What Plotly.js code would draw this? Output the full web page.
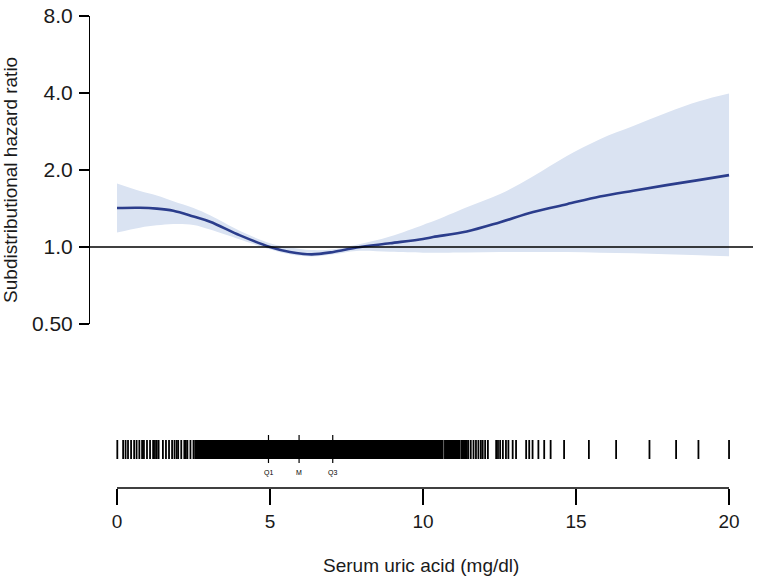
<!DOCTYPE html>
<html>
<head>
<meta charset="utf-8">
<script src="https://cdn.plot.ly/plotly-3.0.1.min.js"></script>
<style>html,body{margin:0;padding:0;background:#fff;}#chart{width:757px;height:580px;}</style>
</head>
<body>
<div id="chart"></div>
<script>
// Serum uric acid (mg/dl)
const uricAcid = [0, 0.75, 1.3, 1.84, 2.5, 3.04, 4.02, 5.0, 5.65, 6.36, 7.07, 7.83, 8.92, 10.0, 10.33, 11.43, 12.52, 13.6, 14.7, 15.78, 16.87, 17.96, 19.05, 20];
const shr      = [1.42, 1.423, 1.412, 1.385, 1.315, 1.255, 1.11, 1.0, 0.956, 0.936, 0.956, 0.995, 1.034, 1.075, 1.094, 1.15, 1.25, 1.37, 1.47, 1.575, 1.66, 1.745, 1.83, 1.91];
const ciLower  = [1.14, 1.19, 1.215, 1.23, 1.22, 1.17, 1.07, 0.98, 0.936, 0.917, 0.936, 0.965, 0.958, 0.95, 0.95, 0.952, 0.956, 0.956, 0.955, 0.95, 0.945, 0.937, 0.928, 0.92];
const ciUpper  = [1.77, 1.655, 1.59, 1.51, 1.42, 1.33, 1.155, 1.035, 0.995, 0.973, 0.98, 1.02, 1.10, 1.22, 1.26, 1.43, 1.61, 1.89, 2.27, 2.64, 2.97, 3.35, 3.72, 3.98];

// rug of observations (sparse parts)
const rugSparse = [0.01, 0.2, 0.28, 0.36, 0.46, 0.56, 0.64, 0.73, 0.82, 0.88, 0.98, 1.08, 1.18, 1.24, 1.3, 1.36, 1.5, 1.6, 1.7, 1.8, 1.88, 1.95, 2.0, 2.1, 2.2, 2.25, 2.3, 2.4, 2.5,
  11.48, 11.56, 11.65, 11.73, 11.81, 11.89, 11.95, 12.03, 12.12, 12.39, 12.45, 12.52, 12.61, 12.71, 12.79, 12.93, 13.04, 13.37, 13.47, 13.58, 13.77, 13.96, 14.17, 14.61, 15.42, 16.31, 17.4, 18.27, 19.0, 20.0];
// rug of observations (dense, solid part)
const rugDense = [2.6, 2.7, 2.8, 2.9, 3.0, 3.1, 3.2, 3.3, 3.4, 3.5, 3.6, 3.7, 3.8, 3.9, 4.0, 4.1, 4.2, 4.3, 4.4, 4.5, 4.6, 4.7, 4.8, 4.9, 5.0,
  5.1, 5.2, 5.3, 5.4, 5.5, 5.6, 5.7, 5.8, 5.9, 6.0, 6.1, 6.2, 6.3, 6.4, 6.5, 6.6, 6.7, 6.8, 6.9, 7.0, 7.1, 7.2, 7.3, 7.4, 7.5,
  7.6, 7.7, 7.8, 7.9, 8.0, 8.1, 8.2, 8.3, 8.4, 8.5, 8.6, 8.7, 8.8, 8.9, 9.0, 9.1, 9.2, 9.3, 9.4, 9.5, 9.6, 9.7, 9.8, 9.9, 10.0,
  10.1, 10.2, 10.3, 10.4, 10.5, 10.6, 10.76, 10.86, 10.96, 11.06, 11.15, 11.3, 11.39];
const quartileX = [4.95, 5.95, 7.05];
const quartileLabels = ['Q1', 'M', 'Q3'];

const xTicks = [0, 5, 10, 15, 20];
const yTicks = [0.5, 1, 2, 4, 8];
const yTickText = ['0.50', '1.0', '2.0', '4.0', '8.0'];

function rugSegments(vals, y0, y1) {
  const xs = [], ys = [];
  vals.forEach(v => { xs.push(v, v, null); ys.push(y0, y1, null); });
  return {x: xs, y: ys};
}
const sp = rugSegments(rugSparse, 11, 30);
const dn = rugSegments(rugDense, 11, 30);
const qs = rugSegments(quartileX, 7, 35);

const FONT = 'Liberation Sans, Arial, sans-serif';
const bandColor = '#dae3f2';
const lineColor = '#2b3d8c';

const traces = [
  {x: uricAcid, y: ciLower, type: 'scatter', mode: 'lines', line: {width: 0, shape: 'spline', color: bandColor}, hoverinfo: 'skip', showlegend: false},
  {x: uricAcid, y: ciUpper, type: 'scatter', mode: 'lines', fill: 'tonexty', fillcolor: bandColor, line: {width: 0, shape: 'spline', color: bandColor}, hoverinfo: 'skip', showlegend: false},
  {x: uricAcid, y: shr, type: 'scatter', mode: 'lines', line: {width: 2.6, shape: 'spline', color: lineColor}, showlegend: false},
  {x: sp.x, y: sp.y, yaxis: 'y2', type: 'scatter', mode: 'lines', line: {width: 1.8, color: '#000'}, connectgaps: false, showlegend: false, hoverinfo: 'skip'},
  {x: dn.x, y: dn.y, yaxis: 'y2', type: 'scatter', mode: 'lines', line: {width: 4.5, color: '#000'}, connectgaps: false, showlegend: false, hoverinfo: 'skip'},
  {x: qs.x, y: qs.y, yaxis: 'y2', type: 'scatter', mode: 'lines', line: {width: 1.2, color: '#000'}, connectgaps: false, showlegend: false, hoverinfo: 'skip'}
];

const annotations = quartileX.map((q, i) => ({
  x: q, y: 0.0318, xref: 'x', yref: 'paper', text: quartileLabels[i], showarrow: false,
  font: {family: FONT, size: 7, color: '#000'}, xanchor: 'center', yanchor: 'middle'
}));
annotations.push({
  x: -0.118, y: 0.652, xref: 'paper', yref: 'paper', text: 'Subdistributional hazard ratio', textangle: -90,
  showarrow: false, font: {family: FONT, size: 19, color: '#1a1a1a'}, xanchor: 'center', yanchor: 'middle'
});
annotations.push({
  x: 0.5, y: -0.165, xref: 'paper', yref: 'paper', text: 'Serum uric acid (mg/dl)',
  showarrow: false, font: {family: FONT, size: 19, color: '#1a1a1a'}, xanchor: 'center', yanchor: 'middle'
});

const layout = {
  width: 757, height: 580,
  margin: {l: 89, r: 4, t: 16, b: 92},
  paper_bgcolor: '#fff', plot_bgcolor: '#fff',
  font: {family: FONT, size: 19, color: '#1a1a1a'},
  showlegend: false,
  xaxis: {
    range: [-0.915, 20.783], anchor: 'free', position: 0,
    tickvals: xTicks, ticktext: xTicks.map(String), ticks: 'outside', ticklen: 16, tickwidth: 1.3, tickcolor: '#000',
    showline: false, showgrid: false, zeroline: false,
    tickfont: {family: FONT, size: 19, color: '#1a1a1a'}
  },
  yaxis: {
    type: 'log', range: [Math.log10(0.5), Math.log10(8)], domain: [0.3475, 1],
    anchor: 'free', position: 0,
    tickvals: yTicks, ticktext: yTickText, ticks: 'outside', ticklen: 10, tickwidth: 1.3, tickcolor: '#000',
    showline: true, linecolor: '#000', linewidth: 1.3, showgrid: false, zeroline: false,
    tickfont: {family: FONT, size: 21, color: '#1a1a1a'}, ticklabelstandoff: 2
  },
  yaxis2: {
    domain: [0.0381, 0.1229], range: [0, 40], anchor: 'x',
    visible: false, showgrid: false, zeroline: false
  },
  shapes: [
    {type: 'line', xref: 'paper', yref: 'y', x0: 0, x1: 1, y0: 1, y1: 1, line: {color: '#000', width: 1.3}, layer: 'above'},
    {type: 'line', xref: 'x', yref: 'paper', x0: 0, x1: 20, y0: 0, y1: 0, line: {color: '#000', width: 1.3}}
  ],
  annotations: annotations
};

Plotly.newPlot('chart', traces, layout, {staticPlot: true, displayModeBar: false});
</script>
</body>
</html>
